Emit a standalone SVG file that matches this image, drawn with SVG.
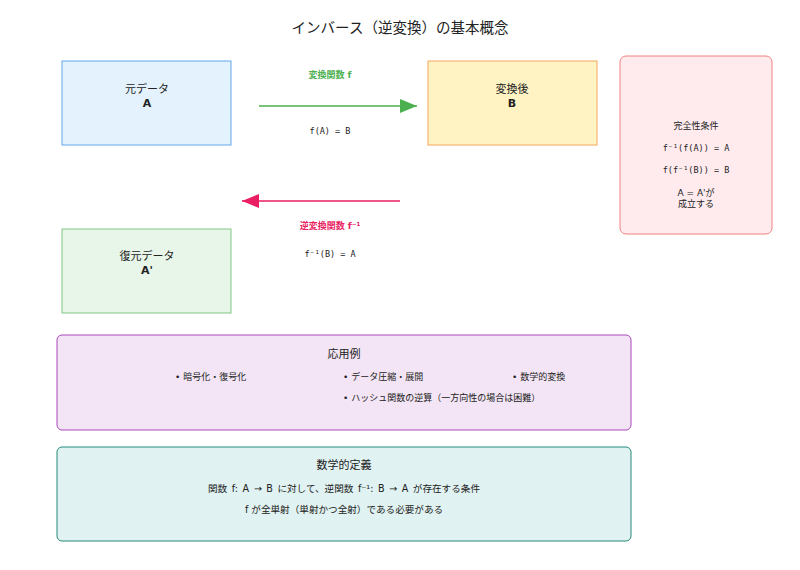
<svg xmlns="http://www.w3.org/2000/svg" width="800" height="570" viewBox="0 0 800 570">
<defs>
<style>
text{font-family:"DejaVu Sans","Noto Sans CJK JP",sans-serif;fill:#222;}
.mono{font-family:"DejaVu Sans Mono","Noto Sans CJK JP",monospace;font-size:8.5px;}
.lbl{font-size:11px;text-anchor:middle;}
.b{font-weight:bold;}
.sm{font-size:9px;}
.def{font-size:9.6px;}
.mid{text-anchor:middle;}
</style>
<marker id="hg" markerWidth="18" markerHeight="14" refX="17" refY="7" orient="auto" markerUnits="userSpaceOnUse"><path d="M0,0 L17,7 L0,14 Z" fill="#4caf50"/></marker>
<marker id="hp" markerWidth="18" markerHeight="14" refX="17" refY="7" orient="auto" markerUnits="userSpaceOnUse"><path d="M0,0 L17,7 L0,14 Z" fill="#e91e63"/></marker>
</defs>
<rect width="800" height="570" fill="#fff"/>
<text x="400" y="33" class="mid" style="font-size:14.5px">インバース（逆変換）の基本概念</text>

<g id="nodeA">
<rect x="62" y="61" width="169" height="84" fill="#e3f2fd" stroke="#64a8e8" stroke-width="1"/>
<text x="147" y="93" class="lbl">元データ</text>
<text x="147" y="107" class="lbl b">A</text>
</g>
<g id="nodeB">
<rect x="428" y="61" width="169" height="84" fill="#fff3c4" stroke="#f4a75c" stroke-width="1"/>
<text x="512" y="93" class="lbl">変換後</text>
<text x="512" y="107" class="lbl b">B</text>
</g>
<g id="nodeA2">
<rect x="62" y="229" width="169" height="84" fill="#e8f5e9" stroke="#81c784" stroke-width="1"/>
<text x="147" y="260" class="lbl">復元データ</text>
<text x="147" y="274" class="lbl b">A'</text>
</g>
<g id="completeness">
<rect x="620" y="56" width="152" height="178" rx="6" fill="#ffebee" stroke="#f28080" stroke-width="1"/>
<text x="696" y="129" class="sm mid">完全性条件</text>
<text x="696" y="151" class="mono mid">f⁻¹(f(A)) = A</text>
<text x="696" y="173" class="mono mid">f(f⁻¹(B)) = B</text>
<text x="696" y="196" class="sm mid">A = A'が</text>
<text x="696" y="207" class="sm mid">成立する</text>
</g>
<g id="applications">
<rect x="57" y="335" width="574" height="95" rx="5" fill="#f3e5f5" stroke="#ab47bc" stroke-width="1"/>
<text x="344" y="358" class="mid" style="font-size:11px">応用例</text>
<text x="175" y="380" class="sm">• 暗号化・復号化</text>
<text x="343" y="380" class="sm">• データ圧縮・展開</text>
<text x="512" y="380" class="sm">• 数学的変換</text>
<text x="343" y="401" class="sm">• ハッシュ関数の逆算（一方向性の場合は困難）</text>
</g>
<g id="definition">
<rect x="57" y="447" width="574" height="94" rx="5" fill="#e0f2f1" stroke="#26897a" stroke-width="1"/>
<text x="344" y="469" class="mid" style="font-size:11px">数学的定義</text>
<text x="344" y="492" class="def mid" style="word-spacing:1.5px">関数 f: A → B に対して、逆関数 f⁻¹: B → A が存在する条件</text>
<text x="344" y="513" class="def mid">f が全単射（単射かつ全射）である必要がある</text>
</g>
<g id="connectors">
<line x1="259" y1="106" x2="417" y2="106" stroke="#4caf50" stroke-width="1.5" marker-end="url(#hg)"/>
<text x="330" y="78" class="sm mid b" style="fill:#4caf50">変換関数 f</text>
<text x="330" y="134" class="mono mid">f(A) = B</text>
<line x1="400" y1="201" x2="242" y2="201" stroke="#e91e63" stroke-width="1.5" marker-end="url(#hp)"/>
<text x="330" y="229" class="sm mid b" style="fill:#e91e63">逆変換関数 f⁻¹</text>
<text x="330" y="257" class="mono mid">f⁻¹(B) = A</text>
</g>
</svg>
